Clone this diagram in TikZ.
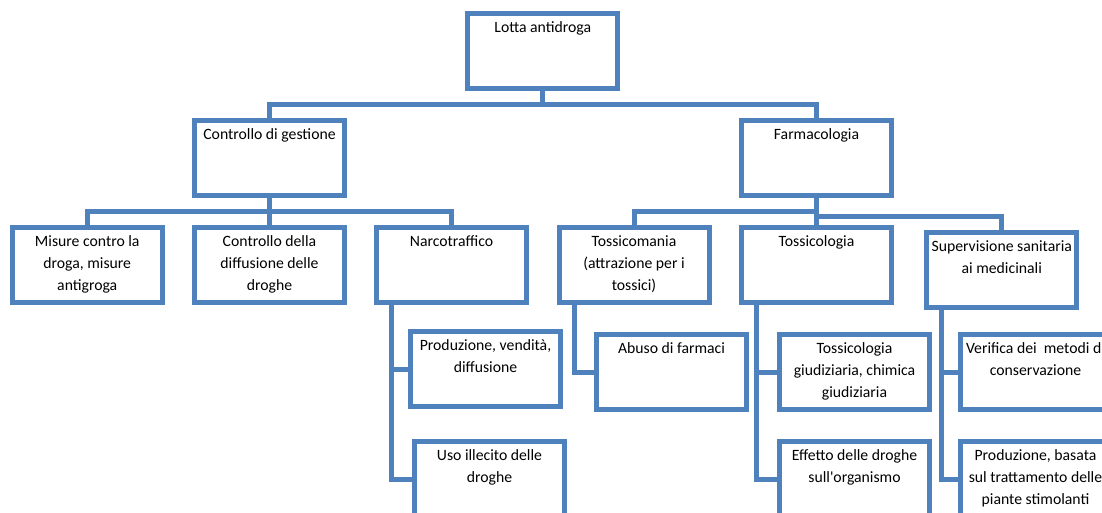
\documentclass[tikz,border=0pt]{standalone}
\usepackage{fontspec}
\setmainfont{Carlito}
\usepackage{tikz}
\newcommand{\boxtext}[1]% text hanging from the top of a box
{\parbox[c][56.25pt][t]{108.5pt}{\centering\rule{0pt}{14.25pt}#1}%
}
\definecolor{smartblue}{RGB}{79,129,189}
\tikzset{
	box/.style={draw=smartblue, line width=3.75pt, inner xsep=2pt, inner ysep=0pt, outer sep=0pt, font=\fontsize{11.8pt}{16.5pt}\selectfont},
	link/.style={draw=smartblue, line width=3.75pt}
}

\begin{document}
\begin{tikzpicture}[x=0.75pt, y=-0.75pt]
	\useasboundingbox (0,0) rectangle (1102,513);
	\clip (0,0) rectangle (1102,513);
	\node[box] (root) at (542.75,51){\boxtext{Lotta antidroga}};%top
	\node[box] (gestione) at (269.5,158){\boxtext{Controllo di gestione}};
	\node[box] (farmaco) at (816.5,158){\boxtext{Farmacologia}};
	\node[box] (misure) at (87.25,265){\boxtext{Misure contro la\\droga, misure\\antigroga}};
	\node[box] (diffusione) at (269.5,265){\boxtext{Controllo della\\diffusione delle\\droghe}};
	\node[box] (narco) at (451.5,265){\boxtext{Narcotraffico}};
	\node[box] (tossicomania) at (634,265){\boxtext{Tossicomania\\(attrazione per i\\tossici)}};
	\node[box] (tossicologia) at (816.5,265){\boxtext{Tossicologia}};
	\node[box] (supervisione) at (1001.75,270){\boxtext{Supervisione sanitaria\\ai medicinali}};
	\node[box] (produzione) at (485.5,369){\boxtext{Produzione, vendità,\\diffusione}};
	\node[box] (uso) at (489.5,479){\boxtext{Uso illecito delle\\droghe}};
	\node[box] (abuso) at (671.5,372){\boxtext{Abuso di farmaci}};
	\node[box] (giudiziaria) at (854.5,372){\boxtext{Tossicologia\\giudiziaria, chimica\\giudiziaria}};
	\node[box] (effetto) at (854.5,479){\boxtext{Effetto delle droghe\\sull\textquotesingle organismo}};
	\node[box] (verifica) at (1035.5,372){\boxtext{Verifica dei~ metodi di\\conservazione}};
	\node[box] (piante) at (1035.5,479){\boxtext{Produzione, basata\\sul trattamento delle\\piante stimolanti}};
	\coordinate (bus1) at (542.75,104.5);
	\coordinate (bus2) at (269.5,211.7);
	\coordinate (bus3) at (816.5,211.7);
	\coordinate (bus4) at (816.5,216.8);
	\draw[link] (root.south) -- (bus1);
	\draw[link] (gestione.north) |- (bus1) -| (farmaco.north);
	\draw[link] (gestione.south) -- (bus2) -- (diffusione.north);
	\draw[link] (misure.north) |- (bus2) -| (narco.north);
	\draw[link] (farmaco.south) -- (bus4);
	\draw[link] (tossicomania.north) |- (bus3) -- (tossicologia.north);
	\draw[link] (bus4) -| (supervisione.north);
	\draw[link] (narco.south west) ++(15,0) |- (produzione.west);%hanging
	\draw[link] (narco.south west) ++(15,0) |- (uso.west);
	\draw[link] (tossicomania.south west) ++(15,0) |- (abuso.west);
	\draw[link] (tossicologia.south west) ++(15,0) |- (giudiziaria.west);
	\draw[link] (tossicologia.south west) ++(15,0) |- (effetto.west);
	\draw[link] (supervisione.south west) ++(15,0) |- (verifica.west);
	\draw[link] (supervisione.south west) ++(15,0) |- (piante.west);
\end{tikzpicture}
\end{document}
